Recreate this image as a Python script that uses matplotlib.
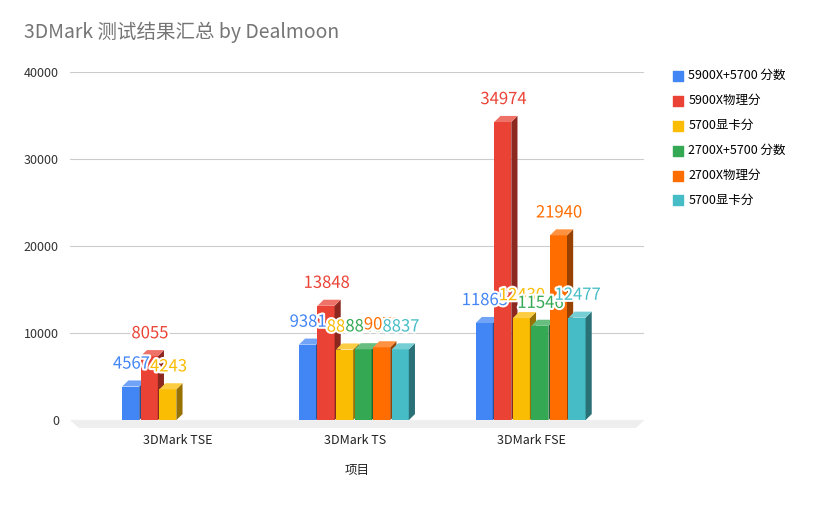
import numpy as np
import matplotlib.pyplot as plt
import matplotlib.patheffects as pe
from matplotlib.patches import Polygon, Rectangle
from matplotlib.colors import to_rgb

plt.rcParams['font.family'] = ['Noto Sans CJK JP', 'Noto Sans CJK SC', 'DejaVu Sans']

categories = ['3DMark TSE', '3DMark TS', '3DMark FSE']
series = ['5900X+5700 分数', '5900X物理分', '5700显卡分', '2700X+5700 分数', '2700X物理分', '5700显卡分']
values = [
    [4567, 9381, 11865],
    [8055, 13848, 34974],
    [4243, 8821, 12430],
    [None, 8848, 11546],
    [None, 9072, 21940],
    [None, 8837, 12477],
]
colors = ['#4285F4', '#EA4335', '#FBBC04', '#34A853', '#FF6D01', '#46BDC6']

fig = plt.figure(figsize=(8.16, 5.05), dpi=100)
ax = fig.add_axes([0.0858, 0.168, 0.704, 0.689])
ax.set_xlim(-0.61, 2.64)
ax.set_ylim(0, 40000)

w = 0.105
dx, dy = 0.035, 700

def shade(c, f):
    r = np.array(to_rgb(c))
    return tuple(np.clip(r * f, 0, 1)) if f < 1 else tuple(r + (1 - r) * (f - 1))

# floor
ax.add_patch(Polygon([(-0.61, 0), (2.64, 0), (2.64 - 0.05, -900), (-0.61 + 0.05, -900)],
                     closed=True, fc='#eeeeee', ec='none', clip_on=False, zorder=1))

for i, (name, vals, c) in enumerate(zip(series, values, colors)):
    for j, v in enumerate(vals):
        if v is None:
            continue
        x0 = j + (i - 3) * w
        h = v - dy
        bw = w * 0.92
        ax.add_patch(Rectangle((x0, 0), bw, h, fc=c, ec='none', zorder=3))
        ax.add_patch(Polygon([(x0 + bw, 0), (x0 + bw + dx, dy), (x0 + bw + dx, h + dy), (x0 + bw, h)],
                             fc=shade(c, 0.6), ec='none', zorder=3))
        ax.add_patch(Polygon([(x0, h), (x0 + bw, h), (x0 + bw + dx, h + dy), (x0 + dx, h + dy)],
                             fc=shade(c, 1.25), ec='none', zorder=3))
        ax.text(x0 + w / 2, v + 900, str(v), color=c, fontsize=12, ha='center', va='bottom', zorder=5,
                path_effects=[pe.withStroke(linewidth=3, foreground='white')])
    ax.scatter([], [], marker='s', s=60, color=c, label=name)

ax.set_yticks(range(0, 40001, 10000))
ax.set_yticklabels([str(t) for t in range(0, 40001, 10000)], fontsize=9, color='#333333')
ax.grid(axis='y', color='#cccccc', linewidth=0.8)
ax.set_axisbelow(True)
ax.set_xticks(range(3))
ax.set_xticklabels(categories, fontsize=9, color='#222222')
ax.tick_params(length=0, pad=10)
ax.tick_params(axis='y', pad=8)
for s in ax.spines.values():
    s.set_visible(False)
ax.set_xlabel('项目', fontsize=9, color='#222222', labelpad=12)

fig.text(0.03, 0.925, '3DMark 测试结果汇总 by Dealmoon', fontsize=14, color='#757575')
fig.legend(loc='upper left', bbox_to_anchor=(0.81, 0.885), frameon=False, fontsize=9,
           handletextpad=0.3, labelspacing=0.95, handlelength=1)

fig.savefig('out.png', dpi=100)
